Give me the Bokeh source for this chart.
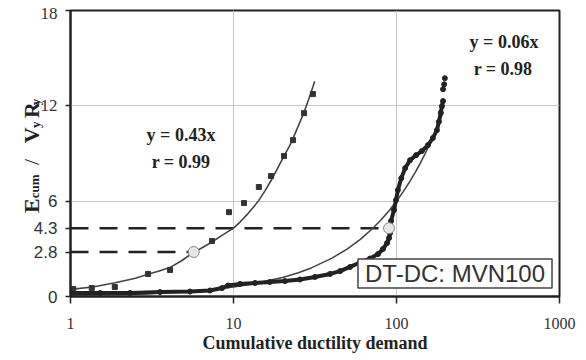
import math
from bokeh.plotting import figure
from bokeh.layouts import row
from bokeh.models import FixedTicker, Label
from bokeh.embed import file_html
from bokeh.resources import INLINE

# ---------------- data ----------------
x_ticks = [1, 10, 100, 1000]
y_ticks = [0, 2.8, 4.3, 6, 12, 18]
y_tick_labels = ["0", "2.8", "4.3", "6", "12", "18"]

# test series 1 (squares)
sq_x = [1.04, 1.35, 1.87, 2.99, 4.08, 7.38, 9.38, 11.6, 14.3, 17.0, 20.4, 23.2, 27.1, 30.7]
sq_y = [0.47, 0.53, 0.60, 1.42, 1.67, 3.49, 5.31, 5.88, 6.89, 7.58, 8.84, 9.84, 11.54, 12.74]

# fit of series 1: y = 0.43x
fit1_x = [1.0, 1.37, 1.88, 2.5, 2.99, 3.5, 4.07, 4.8, 5.7, 6.5, 7.37, 8.5, 10.0, 11.0, 12.1,
          13.2, 14.3, 15.6, 17.0, 18.6, 20.4, 22.0, 23.2, 25.0, 27.1, 29.0, 30.7, 31.5]
fit1_y = [0.45, 0.60, 0.86, 1.15, 1.40, 1.60, 1.82, 2.25, 2.78, 3.10, 3.43, 3.85, 4.30, 4.70, 5.15,
          5.60, 6.05, 6.65, 7.30, 8.05, 8.84, 9.45, 9.95, 10.75, 11.60, 12.45, 13.20, 13.55]

# series 2 (dense dark circles)
ds_x = [1.0, 1.52, 2.32, 3.54, 5.41, 7.18, 8.50, 9.25, 10.96, 13.55, 16.7, 20.7, 25.6, 31.6,
        39.1, 45.1, 51.9, 59.8, 68.8, 77.0, 82.6, 87.5, 90.0, 91.3, 92.6, 96.5, 99.3, 102,
        107, 113, 121, 132, 143, 156, 167, 177, 182, 187, 190, 193, 193, 196, 198]
ds_y = [0.22, 0.22, 0.22, 0.28, 0.31, 0.38, 0.53, 0.69, 0.79, 0.85, 0.91, 0.97, 1.07, 1.23,
        1.42, 1.60, 1.86, 2.14, 2.39, 2.67, 2.99, 3.36, 3.68, 3.99, 4.75, 5.44, 6.07, 6.70,
        7.45, 8.08, 8.58, 8.90, 9.15, 9.53, 9.97, 10.47, 11.0, 11.57, 11.98, 12.3, 13.05, 13.36, 13.74]
band_count = 40  # points joined into the continuous band

# fit of series 2: y = 0.06x
fit2_x = [1, 2, 3, 5, 7, 10, 14, 20, 25, 30, 40, 50, 60, 70, 80, 90, 100, 110, 120, 130,
          140, 150, 160, 170, 180, 193]
fit2_y = [0.06, 0.12, 0.18, 0.30, 0.42, 0.60, 0.84, 1.20, 1.50, 1.80, 2.40, 3.00, 3.60, 4.20,
          4.80, 5.40, 6.00, 6.60, 7.20, 7.80, 8.40, 9.00, 9.60, 10.20, 10.80, 11.60]

# reference levels (dashed) and marked points
ref_y = [2.8, 4.3]
ref_x_end = [5.7, 90.0]

DARK = "#222222"
SERIF = "Liberation Serif"
SANS = "Liberation Sans"

# ---------------- layout constants (pixels) ----------------
W_SIDE = 62
W_MAIN = 524
H = 360
TOP = 10
BOTTOM = 64
FRAME_H = H - TOP - BOTTOM
Y_MAX = 18

# ---------------- main figure ----------------
p = figure(width=W_MAIN, height=H, x_axis_type="log", x_range=(1, 1000), y_range=(0, Y_MAX),
           output_backend="svg", toolbar_location=None, frame_align=False,
           min_border_left=8, min_border_right=27, min_border_top=TOP, min_border_bottom=BOTTOM)
p.background_fill_color = "white"
p.border_fill_color = "white"
p.outline_line_color = DARK
p.outline_line_width = 2

p.xgrid.ticker = FixedTicker(ticks=[10, 100])
p.ygrid.ticker = FixedTicker(ticks=[6, 12])
for g in (p.xgrid, p.ygrid):
    g.grid_line_color = "#c8c8c8"
    g.grid_line_width = 1

xa = p.xaxis[0]
xa.ticker = FixedTicker(ticks=x_ticks)
xa.major_label_overrides = {t: str(t) for t in x_ticks}
xa.major_label_text_font = SERIF
xa.major_label_text_font_size = "16px"
xa.major_label_text_color = "#333333"
xa.major_label_standoff = 14
xa.major_tick_out = 7
xa.major_tick_in = 0
xa.minor_tick_out = 0
xa.minor_tick_in = 0
xa.axis_line_color = DARK
xa.axis_line_width = 2
xa.major_tick_line_color = DARK
xa.major_tick_line_width = 1.5
xa.axis_label = "Cumulative ductility demand"
xa.axis_label_text_font = SERIF
xa.axis_label_text_font_style = "bold"
xa.axis_label_text_font_size = "18px"
xa.axis_label_text_color = DARK
xa.axis_label_standoff = 1

ya = p.yaxis[0]
ya.ticker = FixedTicker(ticks=y_ticks)
ya.major_label_overrides = {t: "" for t in y_ticks}
ya.major_label_text_font_size = "1px"
ya.major_label_standoff = 0
ya.major_tick_out = 5
ya.major_tick_in = 0
ya.minor_tick_out = 0
ya.minor_tick_in = 0
ya.axis_line_color = DARK
ya.axis_line_width = 2
ya.major_tick_line_color = DARK
ya.major_tick_line_width = 1.5

# dashed reference lines
p.segment(x0=[1] * len(ref_y), y0=ref_y, x1=ref_x_end, y1=ref_y,
          line_color=DARK, line_width=2.5, line_dash="18 11")

# fit curves
p.line(fit1_x, fit1_y, line_color="#444444", line_width=1.6)
p.line(fit2_x, fit2_y, line_color="#444444", line_width=1.6)

# series 1 squares
p.scatter(sq_x, sq_y, marker="square", size=5, fill_color="#333333", line_color="#333333")

# series 2 dense band
p.line(ds_x[:band_count], ds_y[:band_count], line_color=DARK, line_width=4)
p.scatter(ds_x, ds_y, marker="circle", size=5, fill_color=DARK, line_color=DARK)

# marked points
p.scatter(ref_x_end, ref_y, marker="circle", size=11, fill_color="#e6e6e6",
          line_color="#888888", line_width=1)

# equations
for txt, sx, sy in (("y = 0.43x", 110.5, 161.5), ("r = 0.99", 110.5, 134.5),
                    ("y = 0.06x", 433.5, 254.5), ("r = 0.98", 432.5, 227.5)):
    p.add_layout(Label(x=sx, y=sy, x_units="screen", y_units="screen", text=txt,
                       text_font=SERIF, text_font_style="bold", text_font_size="18px",
                       text_color=DARK, text_align="center", text_baseline="middle"))

# boxed tag
p.add_layout(Label(x=384.5, y=23, x_units="screen", y_units="screen", text="DT-DC: MVN100",
                   text_font=SANS, text_font_size="24px", text_color="#333333",
                   text_align="center", text_baseline="middle",
                   background_fill_color="white", border_line_color="#444444",
                   border_line_width=1.5,
                   padding=dict(left=7, right=7, top=1, bottom=1)))

# ---------------- side strip: y tick labels and y title ----------------
ppu = FRAME_H / Y_MAX
side = figure(width=W_SIDE, height=H, x_range=(0, 1),
              y_range=(-BOTTOM / ppu, Y_MAX + TOP / ppu),
              output_backend="svg", toolbar_location=None, frame_align=False,
              x_axis_location=None, y_axis_location=None, min_border=0)
side.outline_line_color = None
side.background_fill_color = "white"
side.border_fill_color = "white"
side.grid.visible = False

for t, lab in zip(y_ticks, y_tick_labels):
    serif = lab in ("12", "18")
    side.add_layout(Label(x=57, y=t, x_units="screen", y_units="data", text=lab,
                          text_font=SERIF if serif else SANS, text_font_size="17px",
                          text_color="#333333", text_align="right", text_baseline="middle",
                          y_offset=-3 if lab == "18" else 0))

ytitle = [
    ("E", 5.25, 31.0, "22px", "bold"),
    ("cum", 6.19, 33.5, "13px", "bold"),
    ("/", 8.27, 31.0, "22px", "normal"),
    ("V", 9.65, 31.0, "22px", "bold"),
    ("y", 10.6, 34.5, "13px", "bold"),
    ("R", 11.23, 31.0, "22px", "bold"),
    ("y", 12.04, 34.5, "13px", "bold"),
]
for txt, yy, sx, fs, st in ytitle:
    side.add_layout(Label(x=sx, y=yy, x_units="screen", y_units="data", text=txt,
                          angle=math.pi / 2, text_font=SERIF, text_font_style=st,
                          text_font_size=fs, text_color=DARK,
                          text_align="left", text_baseline="alphabetic"))

layout = row(side, p, spacing=0)
open("out.html", "w").write(file_html(layout, INLINE))
